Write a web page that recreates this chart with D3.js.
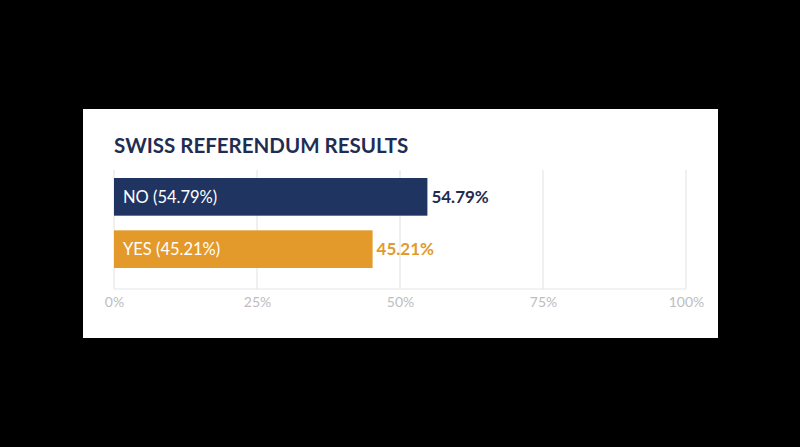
<!DOCTYPE html>
<html>
<head>
<meta charset="utf-8">
<script src="https://cdn.jsdelivr.net/npm/d3@7"></script>
<style>
  html, body { margin: 0; padding: 0; background: #000; }
  svg { display: block; font-family: Lato, "Open Sans", sans-serif; }
</style>
</head>
<body>
<div id="chart"></div>
<script>
// chart data
const categories = ["NO", "YES"];
const values = [54.79, 45.21];
const barColors = ["#1f3460", "#e39a2b"];
const ticks = [0, 25, 50, 75, 100];
const title = "SWISS REFERENDUM RESULTS";

const width = 800, height = 447;
const panel = {x: 83, y: 109, w: 635, h: 229};

const svg = d3.select("#chart").append("svg")
    .attr("width", width)
    .attr("height", height);

svg.append("rect")
    .attr("x", panel.x).attr("y", panel.y)
    .attr("width", panel.w).attr("height", panel.h)
    .attr("fill", "#fff");

const x = d3.scaleLinear()
    .domain([0, 100])
    .range([114, 686]);

const y = d3.scaleBand()
    .domain(categories)
    .range([178, 268])
    .paddingInner(0.28)
    .paddingOuter(0);

const gridTop = 170, gridBottom = 289;

// grid lines
svg.append("g")
    .selectAll("line")
    .data(ticks)
    .join("line")
    .attr("x1", d => x(d)).attr("x2", d => x(d))
    .attr("y1", gridTop).attr("y2", gridBottom)
    .attr("stroke", "#e6e6e6")
    .attr("stroke-width", 1.2);

svg.append("line")
    .attr("x1", x(0)).attr("x2", x(100))
    .attr("y1", gridBottom).attr("y2", gridBottom)
    .attr("stroke", "#e6e6e6")
    .attr("stroke-width", 1.2);

// x axis labels
const xAxis = d3.axisBottom(x)
    .tickValues(ticks)
    .tickFormat(d => d + "%")
    .tickSize(0)
    .tickPadding(8);

const axisG = svg.append("g")
    .attr("transform", `translate(0,${gridBottom})`)
    .call(xAxis);
axisG.select(".domain").remove();
axisG.selectAll("text")
    .attr("fill", "#bdbdbd")
    .style("font-family", "Lato, sans-serif")
    .style("font-size", "14px");

// bars
const rows = categories.map((c, i) => ({cat: c, val: values[i], color: barColors[i]}));

svg.append("g")
    .selectAll("rect")
    .data(rows)
    .join("rect")
    .attr("x", x(0))
    .attr("y", d => y(d.cat))
    .attr("width", d => x(d.val) - x(0))
    .attr("height", y.bandwidth())
    .attr("fill", d => d.color);

// labels inside bars
svg.append("g")
    .selectAll("text")
    .data(rows)
    .join("text")
    .attr("x", x(0) + 9)
    .attr("y", d => y(d.cat) + y.bandwidth() / 2)
    .attr("dy", "0.35em")
    .attr("fill", "#fff")
    .style("font-size", "16.5px")
    .text(d => `${d.cat} (${d.val.toFixed(2)}%)`);

// value labels
svg.append("g")
    .selectAll("text")
    .data(rows)
    .join("text")
    .attr("x", d => x(d.val) + 4)
    .attr("y", d => y(d.cat) + y.bandwidth() / 2)
    .attr("dy", "0.35em")
    .attr("fill", (d, i) => i === 0 ? "#1f2d52" : "#e39a2b")
    .style("font-size", "17px")
    .style("font-weight", "bold")
    .text(d => d.val.toFixed(2) + "%");

// title
svg.append("text")
    .attr("x", 114)
    .attr("y", 153)
    .attr("fill", "#1f2d52")
    .style("font-size", "20.5px")
    .style("font-weight", "bold")
    .text(title);
</script>
</body>
</html>
